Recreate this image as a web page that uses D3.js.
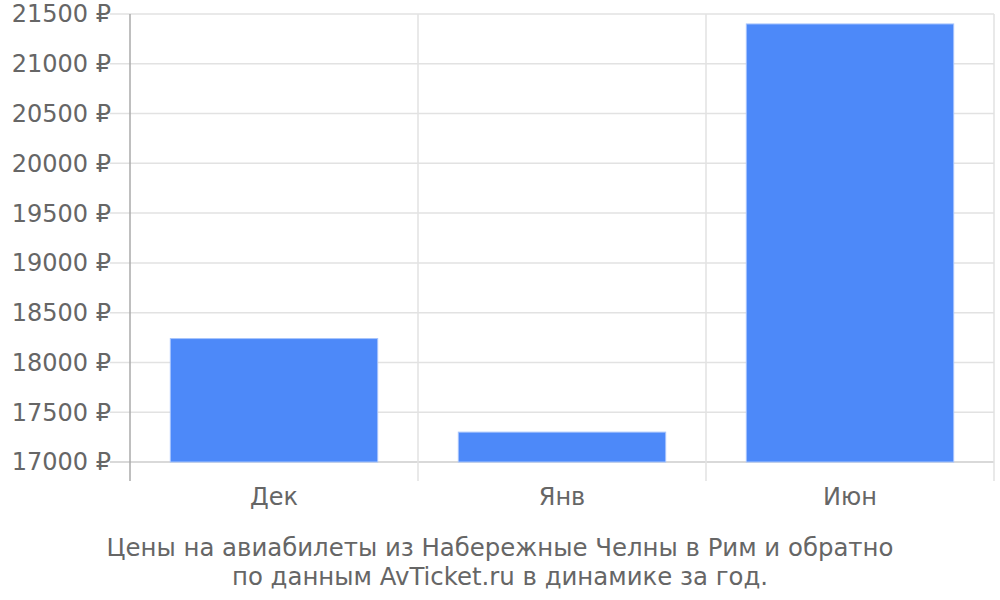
<!DOCTYPE html>
<html>
<head>
<meta charset="utf-8">
<script src="https://cdn.jsdelivr.net/npm/d3@7"></script>
<style>
  body { margin: 0; background: #fff; }
  text { font-family: "DejaVu Sans", sans-serif; fill: #666; }
</style>
</head>
<body>
<svg id="chart"></svg>
<script>
// Data
const months = ['Дек', 'Янв', 'Июн'];
const prices = [18240, 17300, 21400];
const yTicks = [17000, 17500, 18000, 18500, 19000, 19500, 20000, 20500, 21000, 21500];
const titleLines = ['Цены на авиабилеты из Набережные Челны в Рим и обратно', 'по данным AvTicket.ru в динамике за год.'];

const W = 1000, H = 600;
const margin = { top: 14, right: 6, bottom: 138, left: 130 };
const width = W - margin.left - margin.right;
const height = H - margin.top - margin.bottom;

const svg = d3.select('#chart')
  .attr('width', W)
  .attr('height', H);

const g = svg.append('g')
  .attr('transform', `translate(${margin.left}, ${margin.top})`);

const x = d3.scaleBand()
  .domain(months)
  .range([0, width])
  .paddingInner(0.28)
  .paddingOuter(0.14);

const y = d3.scaleLinear()
  .domain([17000, 21500])
  .range([height, 0]);

// horizontal grid + left ticks
g.selectAll('.hgrid')
  .data(yTicks)
  .enter()
  .append('line')
  .attr('x1', -20)
  .attr('x2', width)
  .attr('y1', d => y(d))
  .attr('y2', d => y(d))
  .attr('stroke', d => d === 17000 ? '#ccc' : '#e2e2e2')
  .attr('stroke-width', 1.5);

// vertical grid at band edges
const edges = d3.range(months.length + 1).map(i => i * width / months.length);
g.selectAll('.vgrid')
  .data(edges.slice(1))
  .enter()
  .append('line')
  .attr('x1', d => d)
  .attr('x2', d => d)
  .attr('y1', 0)
  .attr('y2', height + 19)
  .attr('stroke', '#e2e2e2')
  .attr('stroke-width', 1.5);

// left axis line
g.append('line')
  .attr('x1', 0).attr('x2', 0)
  .attr('y1', 0).attr('y2', height + 19)
  .attr('stroke', '#aaa')
  .attr('stroke-width', 1.5);

// y labels
g.selectAll('.ylab')
  .data(yTicks)
  .enter()
  .append('text')
  .attr('x', -19)
  .attr('y', d => y(d))
  .attr('dy', '0.35em')
  .style('text-anchor', 'end')
  .style('font-size', '24px')
  .text(d => d + ' ₽');

// bars
g.selectAll('.bar')
  .data(prices)
  .enter()
  .append('rect')
  .attr('x', (d, i) => x(months[i]))
  .attr('width', x.bandwidth())
  .attr('y', d => y(d))
  .attr('height', d => y(17000) - y(d))
  .attr('fill', '#4d89f9')
  .attr('stroke', '#a6c4fc')
  .attr('stroke-width', 1);

// x labels
g.selectAll('.xlab')
  .data(months)
  .enter()
  .append('text')
  .attr('x', d => x(d) + x.bandwidth() / 2)
  .attr('y', height + 35)
  .attr('dy', '0.35em')
  .style('text-anchor', 'middle')
  .style('font-size', '24px')
  .text(d => d);

// title
svg.selectAll('.title')
  .data(titleLines)
  .enter()
  .append('text')
  .attr('x', 500)
  .attr('y', (d, i) => 556 + i * 29)
  .style('text-anchor', 'middle')
  .style('font-size', '24.4px')
  .text(d => d);
</script>
</body>
</html>
